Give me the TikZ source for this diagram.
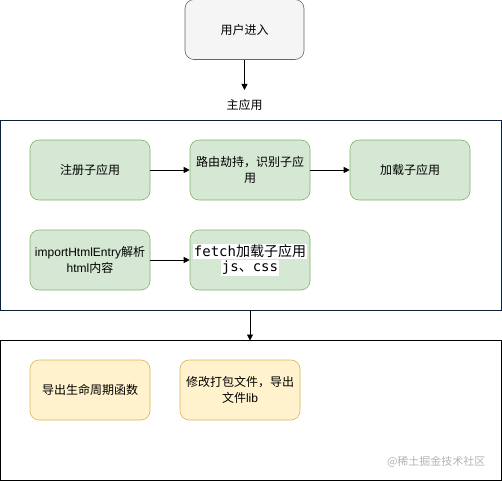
\documentclass[tikz,border=0pt]{standalone}
\usepackage{fontspec}
\setmainfont{Noto Sans CJK SC}
\newfontfamily\monofnt{DejaVu Sans Mono}
\newfontfamily\cjkfnt{Noto Sans CJK SC}
\newfontfamily\latfnt{Liberation Sans}
\definecolor{grayfill}{HTML}{F5F5F5}
\definecolor{graystroke}{HTML}{666666}
\definecolor{greenfill}{HTML}{D5E8D4}
\definecolor{greenstroke}{HTML}{82B366}
\definecolor{yellowfill}{HTML}{FFF2CC}
\definecolor{yellowstroke}{HTML}{D6B656}
\definecolor{navy}{HTML}{0B2239}
\definecolor{wm}{HTML}{B3B3B3}
\usetikzlibrary{arrows.meta}
\begin{document}
\begin{tikzpicture}[x=1pt,y=-1pt,
  box/.style={rounded corners=9pt, line width=0.6pt, inner sep=0pt, align=center,
    font=\fontsize{12}{16}\selectfont, minimum width=120pt, minimum height=60pt},
  greenbox/.style={box, fill=greenfill, draw=greenstroke},
  yellowbox/.style={box, fill=yellowfill, draw=yellowstroke},
  container/.style={draw=navy, line width=1pt},
  conn/.style={-{Triangle[length=6pt,width=6pt]}, line width=0.8pt, black}]
\useasboundingbox (0,0) rectangle (502,481);
% top node
\node[box, fill=grayfill, draw=graystroke, minimum width=119pt] (user) at (244.5,29.5) {用户进入};
\node[font=\fontsize{12}{14}\selectfont] (mainapp) at (244.5,105) {主应用};
\coordinate (mainTop) at (244.5,90);
\draw[conn] (user.south) -- (mainTop);
% container 1
\draw[container] (0.5,120.5) rectangle (501,310);
\coordinate (c1bot) at (250,310);
\node[greenbox] (reg) at (90,170) {注册子应用};
\node[greenbox] (route) at (250,170) {路由劫持，识别子应\\用};
\node[greenbox] (load) at (410,170) {加载子应用};
\node[greenbox] (imp) at (90,260) {{\latfnt importHtmlEntry}解析\\{\latfnt html}内容};
\node[greenbox] (fetch) at (250,260) {};
\node[font=\fontsize{14}{17}\selectfont, align=center, inner sep=0pt] (fetchtxt) at (250,260)
  {\setlength{\fboxsep}{1pt}\colorbox{white}{\monofnt fetch\cjkfnt 加载子应用}\\[-2pt]\setlength{\fboxsep}{1pt}\colorbox{white}{\monofnt js\cjkfnt 、\monofnt css}};
\draw[conn] (reg) -- (route);
\draw[conn] (route) -- (load);
\draw[conn] (imp) -- (fetch);
% container 2
\draw[line width=1pt, black] (0.5,340.5) rectangle (501,480.5);
\coordinate (c2top) at (250,340.5);
\draw[conn] (c1bot) -- (c2top);
\node[yellowbox] (export) at (90,390) {导出生命周期函数};
\node[yellowbox] (pack) at (240,390) {修改打包文件，导出\\文件{\latfnt lib}};
\node[text=wm, font=\fontsize{11}{13}\selectfont, anchor=east] (watermark) at (489,462) {@稀土掘金技术社区};
\end{tikzpicture}
\end{document}
